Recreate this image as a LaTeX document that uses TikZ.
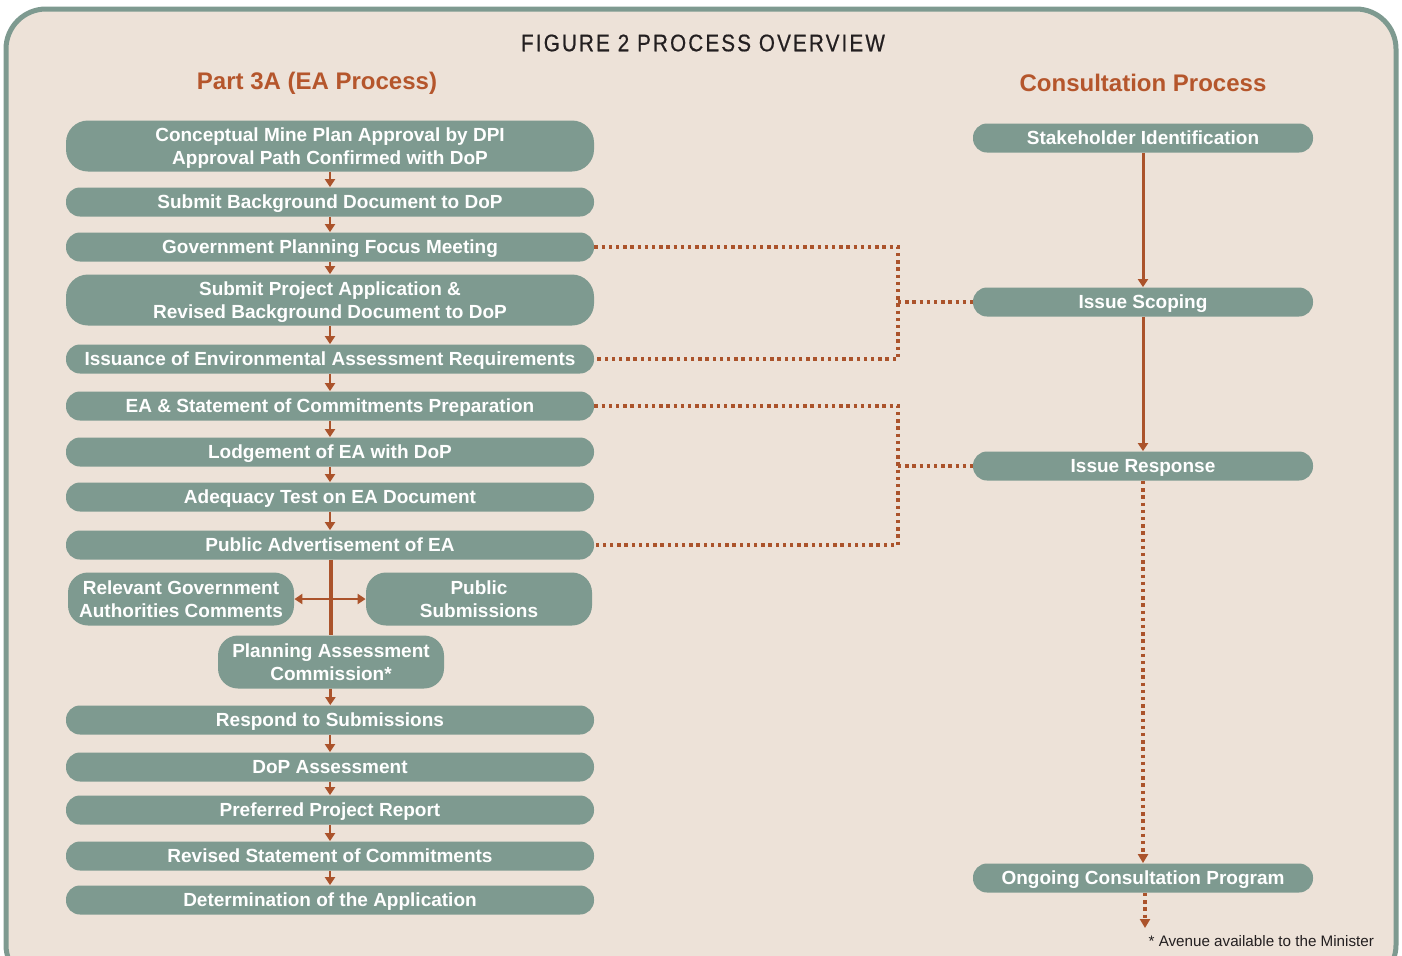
\documentclass[tikz,border=0pt]{standalone}
\usepackage{fontspec}
\setmainfont{Liberation Sans}
\newfontfamily\titlefont[FakeStretch=0.86,LetterSpace=9,FakeBold=0.6]{Liberation Sans}
\usetikzlibrary{arrows.meta}
\definecolor{boxgreen}{HTML}{7E9A90}
\definecolor{paper}{HTML}{EDE2D8}
\definecolor{rust}{HTML}{AB532B}
\definecolor{headrust}{HTML}{B5562C}
\definecolor{ink}{HTML}{231F20}
\tikzset{
  stage/.style={fill=boxgreen, text=white, font=\bfseries\fontsize{9.5}{11.5}\selectfont,
    rounded corners=7pt, minimum width=264pt, minimum height=14.5pt, inner sep=0pt,
    text depth=0pt, align=center},
  tall/.style={minimum height=25.5pt, rounded corners=11pt},
  side/.style={stage, minimum width=113pt, minimum height=26.5pt, rounded corners=10pt},
  talk/.style={stage, minimum width=170pt},
  head/.style={text=headrust, font=\bfseries\fontsize{12}{14}\selectfont},
  flow/.style={rust, line width=1.4pt, -{Triangle[width=5pt,length=4pt]}},
  dots/.style={rust, line width=1.7pt, dash pattern=on 1.7pt off 1.9pt},
  dotflow/.style={dots, -{Triangle[width=5pt,length=4.5pt]}},
  frame/.style={draw=boxgreen, fill=paper, line width=2.5pt, rounded corners=20pt}
}
\begin{document}
\begin{tikzpicture}[x=0.5pt,y=-0.5pt]
% frame
\useasboundingbox (0,0) rectangle (1402,955);
\fill[white] (0,0) rectangle (1402,955);
\draw[frame] (6,9) rectangle (1396,985);

% headings
\node[text=ink, font=\titlefont\fontsize{12}{14}\selectfont] (title) at (703,43) {FIGURE 2 PROCESS OVERVIEW};
\node[head] (parthead) at (317,83) {Part 3A (EA Process)};
\node[head] (conshead) at (1143,83) {Consultation Process};

% EA process column
\node[stage, tall] (plan) at (330,146) {Conceptual Mine Plan Approval by DPI\\Approval Path Confirmed with DoP};
\node[stage] (bgdoc) at (330,202) {Submit Background Document to DoP};
\node[stage] (pfm) at (330,247) {Government Planning Focus Meeting};
\node[stage, tall] (projapp) at (330,300) {Submit Project Application \&\\Revised Background Document to DoP};
\node[stage] (issuance) at (330,359) {Issuance of Environmental Assessment Requirements};
\node[stage] (eaprep) at (330,406) {EA \& Statement of Commitments Preparation};
\node[stage] (lodge) at (330,452) {Lodgement of EA with DoP};
\node[stage] (adequacy) at (330,497) {Adequacy Test on EA Document};
\node[stage] (pubadv) at (330,545) {Public Advertisement of EA};
\node[side] (relgov) at (181,599) {Relevant Government\\Authorities Comments};
\node[side] (pubsub) at (479,599) {Public\\Submissions};
\node[side] (pac) at (331,662) {Planning Assessment\\Commission*};
\node[stage] (respond) at (330,720) {Respond to Submissions};
\node[stage] (dopass) at (330,767) {DoP Assessment};
\node[stage] (ppr) at (330,810) {Preferred Project Report};
\node[stage] (revsoc) at (330,856) {Revised Statement of Commitments};
\node[stage] (determ) at (330,900) {Determination of the Application};

% arrows between stages
\draw[flow] (plan) -- (bgdoc);
\draw[flow] (bgdoc) -- (pfm);
\draw[flow] (pfm) -- (projapp);
\draw[flow] (projapp) -- (issuance);
\draw[flow] (issuance) -- (eaprep);
\draw[flow] (eaprep) -- (lodge);
\draw[flow] (lodge) -- (adequacy);
\draw[flow] (adequacy) -- (pubadv);
\draw[rust, line width=1.8pt] (pubadv.south -| pac.north) -- (pac.north);
\draw[flow, {Triangle[width=5pt,length=4pt]}-{Triangle[width=5pt,length=4pt]}] (relgov) -- (pubsub);
\draw[flow] (pac) -- (respond);
\draw[flow] (respond) -- (dopass);
\draw[flow] (dopass) -- (ppr);
\draw[flow] (ppr) -- (revsoc);
\draw[flow] (revsoc) -- (determ);

% consultation column
\node[talk] (stake) at (1143,138) {Stakeholder Identification};
\node[talk] (scoping) at (1143,302) {Issue Scoping};
\node[talk] (response) at (1143,466) {Issue Response};
\node[talk] (ongoing) at (1143,878) {Ongoing Consultation Program};
\coordinate (tail) at (1145,928);

\draw[flow, line width=1.5pt] (stake) -- (scoping);
\draw[flow, line width=1.5pt] (scoping) -- (response);
\draw[dotflow] (response) -- (ongoing);
\draw[dotflow] (ongoing.south -| tail) -- (tail);

% dotted links
\coordinate (brk1) at (898,302);
\coordinate (brk2) at (898,466);
\draw[dots] (pfm.east) -| (brk1) |- (issuance.east);
\draw[dots] (brk1) -- (scoping.west);
\draw[dots] (eaprep.east) -| (brk2) |- (pubadv.east);
\draw[dots] (brk2) -- (response.west);

% footnote
\node[anchor=east, text=ink, font=\fontsize{7.6}{8}\selectfont] (note) at (1381,941) {* Avenue available to the Minister};
\end{tikzpicture}
\end{document}
